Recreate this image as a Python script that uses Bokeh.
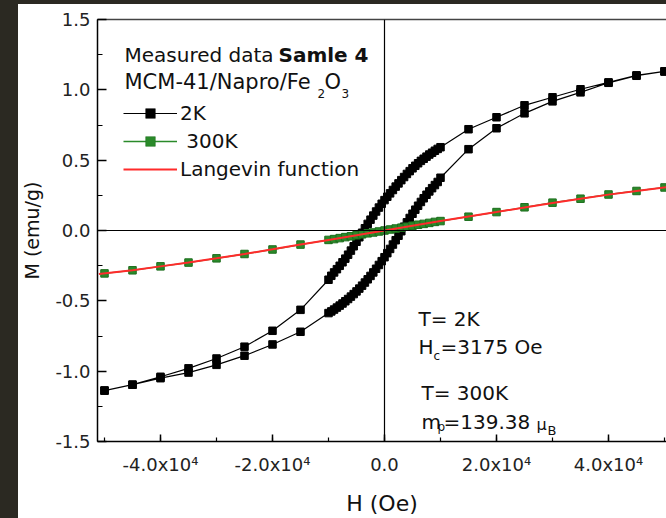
from bokeh.plotting import figure
from bokeh.models import (Range1d, SingleIntervalTicker, FixedTicker, LinearAxis,
                          PrintfTickFormatter, Span, Label, Legend, LegendItem, Div)
from bokeh.layouts import row, column
from bokeh.embed import file_html
from bokeh.resources import INLINE

# ---------------- data ----------------
# 2 K loop, descending branch (+50 kOe -> -50 kOe)
h_2k_down = [50000, 45000, 40000, 35000, 30000, 25000, 20000, 15000,
             10000, 9500, 9000, 8500, 8000, 7500, 7000, 6500, 6000, 5500, 5000,
             4500, 4000, 3500, 3000, 2500, 2000, 1500, 1000, 500, 0,
             -500, -1000, -1500, -2000, -2500, -3000, -3500, -4000, -4500, -5000,
             -5500, -6000, -6500, -7000, -7500, -8000, -8500, -9000, -9500, -10000,
             -15000, -20000, -25000, -30000, -35000, -40000, -45000, -50000]
m_2k_down = [1.131, 1.103, 1.053, 1.004, 0.947, 0.890, 0.805, 0.720,
             0.592, 0.580, 0.567, 0.553, 0.540, 0.525, 0.510, 0.495, 0.478, 0.460, 0.442,
             0.422, 0.402, 0.380, 0.358, 0.335, 0.312, 0.288, 0.264, 0.240, 0.216,
             0.190, 0.163, 0.135, 0.106, 0.077, 0.047, 0.016, -0.016, -0.048, -0.080,
             -0.112, -0.143, -0.172, -0.200, -0.226, -0.251, -0.275, -0.298, -0.322, -0.350,
             -0.564, -0.713, -0.826, -0.910, -0.980, -1.040, -1.096, -1.138]
# 2 K loop, ascending branch (-50 kOe -> +50 kOe)
h_2k_up = [-50000, -45000, -40000, -35000, -30000, -25000, -20000, -15000,
           -10000, -9500, -9000, -8500, -8000, -7500, -7000, -6500, -6000, -5500, -5000,
           -4500, -4000, -3500, -3000, -2500, -2000, -1500, -1000, -500, 0,
           500, 1000, 1500, 2000, 2500, 3000, 3500, 4000, 4500, 5000,
           5500, 6000, 6500, 7000, 7500, 8000, 8500, 9000, 9500, 10000,
           15000, 20000, 25000, 30000, 35000, 40000, 45000, 50000]
m_2k_up = [-1.138, -1.096, -1.050, -1.010, -0.955, -0.890, -0.810, -0.720,
           -0.587, -0.575, -0.562, -0.548, -0.534, -0.519, -0.503, -0.487, -0.470, -0.452, -0.433,
           -0.413, -0.392, -0.370, -0.347, -0.323, -0.298, -0.272, -0.245, -0.218, -0.190,
           -0.161, -0.131, -0.100, -0.069, -0.037, -0.005, 0.027, 0.058, 0.089, 0.119,
           0.148, 0.176, 0.203, 0.229, 0.254, 0.278, 0.301, 0.323, 0.345, 0.375,
           0.578, 0.727, 0.833, 0.918, 0.982, 1.050, 1.100, 1.131]

# 300 K measured data
h_300k = [-50000, -45000, -40000, -35000, -30000, -25000, -20000, -15000, -10000,
          -9000, -8000, -7000, -6000, -5000, -4000, -3000, -2000, -1000, 0,
          1000, 2000, 3000, 4000, 5000, 6000, 7000, 8000, 9000, 10000,
          15000, 20000, 25000, 30000, 35000, 40000, 45000, 50000]
m_300k = [-0.305, -0.283, -0.255, -0.228, -0.198, -0.167, -0.135, -0.100, -0.067,
          -0.061, -0.054, -0.047, -0.041, -0.034, -0.027, -0.020, -0.014, -0.007, 0.000,
          0.007, 0.014, 0.020, 0.027, 0.034, 0.041, 0.047, 0.054, 0.061, 0.067,
          0.098, 0.131, 0.165, 0.198, 0.226, 0.256, 0.281, 0.306]

# Langevin fit curve
h_fit = [-51000, -45000, -40000, -35000, -30000, -25000, -20000, -15000, -10000,
         -5000, 0, 5000, 10000, 15000, 20000, 25000, 30000, 35000, 40000, 45000, 50300]
m_fit = [-0.310, -0.283, -0.255, -0.227, -0.198, -0.167, -0.134, -0.100, -0.067,
         -0.034, 0.000, 0.034, 0.067, 0.099, 0.131, 0.164, 0.196, 0.226, 0.255, 0.281, 0.307]

x_tick_labels = {-40000: "-4.0x10\u2074", -20000: "-2.0x10\u2074", 0: "0.0",
                 20000: "2.0x10\u2074", 40000: "4.0x10\u2074"}

FONT = "DejaVu Sans"
DARK = "#2b2922"
GREEN = "#2a8a2a"
RED = "#ff2b2b"
NAN = float("nan")

p = figure(width=648, height=514,
           x_range=Range1d(-51250, 50357), y_range=Range1d(-1.5, 1.5),
           output_backend="svg", toolbar_location=None,
           min_border_left=79, min_border_right=0, min_border_top=15, min_border_bottom=76,
           background_fill_color="white", border_fill_color="white", margin=0)
p.outline_line_color = None
p.grid.visible = False

xa = p.xaxis[0]
ya = p.yaxis[0]
xa.ticker = SingleIntervalTicker(interval=20000, num_minor_ticks=2)
xa.major_label_overrides = {float(k): v for k, v in x_tick_labels.items()}
ya.ticker = SingleIntervalTicker(interval=0.5, num_minor_ticks=2)
ya.formatter = PrintfTickFormatter(format="%.1f")

for ax in (xa, ya):
    ax.major_tick_out = 0
    ax.minor_tick_out = 0
    ax.axis_line_color = "black"
    ax.axis_line_width = 1.5
    ax.major_tick_line_color = "black"
    ax.minor_tick_line_color = "black"
    ax.major_tick_line_width = 1.5
    ax.minor_tick_line_width = 1.2
    ax.major_label_text_font = FONT
    ax.major_label_text_font_size = "18px"
    ax.major_label_text_color = "#222222"
    ax.axis_label_text_font = FONT
    ax.axis_label_text_font_style = "normal"
    ax.axis_label_text_color = "#111111"

xa.major_tick_in = 7
xa.minor_tick_in = 4
xa.major_label_standoff = 12
xa.axis_label = "H (Oe)"
xa.axis_label_text_font_size = "22px"
xa.axis_label_standoff = 13

ya.major_tick_in = 9
ya.minor_tick_in = 5
ya.major_label_standoff = 7
ya.axis_label = "M (emu/g)"
ya.axis_label_text_font_size = "19px"
ya.axis_label_standoff = 9

top_axis = LinearAxis(ticker=FixedTicker(ticks=[]), axis_line_color="#444444",
                      axis_line_width=1.5, major_label_text_font_size="0px",
                      major_tick_in=0, major_tick_out=0, minor_tick_in=0, minor_tick_out=0)
p.add_layout(top_axis, "above")

# zero lines
p.add_layout(Span(location=0, dimension="height", line_color="black", line_width=1.2))
p.add_layout(Span(location=0, dimension="width", line_color="black", line_width=1.2))

# 2 K loop
h_2k = h_2k_down + h_2k_up
m_2k = m_2k_down + m_2k_up
l2k = p.line(h_2k, m_2k, line_color="black", line_width=1.2)
p.scatter(h_2k, m_2k, marker="square", size=7.5, fill_color="black", line_color="black")

# 300 K
l300 = p.line(h_300k, m_300k, line_color=GREEN, line_width=1.3)
p.scatter(h_300k, m_300k, marker="square", size=7.5, fill_color=GREEN, line_color="#1d6e1d")

# Langevin
lfit = p.line(h_fit, m_fit, line_color=RED, line_width=2)

# small sample markers used only by the legend (no visible data point)
leg_sq_2k = p.scatter([NAN], [NAN], marker="square", size=4, fill_color="black",
                      line_color="black", line_width=0.5)
leg_sq_300 = p.scatter([NAN], [NAN], marker="square", size=4, fill_color=GREEN,
                       line_color="#1d6e1d", line_width=0.5)

legend = Legend(items=[
    LegendItem(label="2K", renderers=[l2k, leg_sq_2k]),
    LegendItem(label="\u00a0300K", renderers=[l300, leg_sq_300]),
    LegendItem(label="Langevin function", renderers=[lfit]),
], location=(26, 260))
legend.padding = 0
legend.margin = 0
legend.spacing = 4
legend.label_height = 24
legend.glyph_height = 24
legend.glyph_width = 54
legend.label_standoff = 3
legend.border_line_color = None
legend.background_fill_alpha = 0
legend.label_text_font = FONT
legend.label_text_font_size = "20px"
legend.label_text_color = "#111111"
p.add_layout(legend)


def lab(x, y, text, size="20px", style="normal"):
    p.add_layout(Label(x=x, y=y, text=text, text_font=FONT, text_font_size=size,
                       text_font_style=style, text_color="#111111",
                       text_baseline="alphabetic", text_align="left"))


# legend header
lab(-46430, 1.245, "Measured data", "20px")
lab(-18930, 1.245, "Samle 4", "20px", "bold")
lab(-46430, 1.053, "MCM-41/Napro/Fe", "21px")
lab(-11960, 0.975, "2", "12px")
lab(-10710, 1.053, "O", "21px")
lab(-7680, 0.975, "3", "12px")

# annotations
lab(6070, -0.628, "T= 2K")
lab(6070, -0.826, "H")
lab(8750, -0.890, "c", "12px")
lab(10000, -0.826, "=3175 Oe")
lab(6600, -1.152, "T= 300K")
lab(6600, -1.358, "m")
lab(9460, -1.400, "p", "12px")
lab(10540, -1.358, "=139.38")
lab(27140, -1.380, "\u03bc", "16px")
lab(29110, -1.422, "B", "13px")

top_bar = Div(width=666, height=4, margin=0, styles={"background-color": DARK})
left_bar = Div(width=18, height=514, margin=0, styles={"background-color": DARK})
layout = column(top_bar, row(left_bar, p, spacing=0, margin=0), spacing=0, margin=0)

open("out.html", "w").write(file_html(layout, INLINE))
